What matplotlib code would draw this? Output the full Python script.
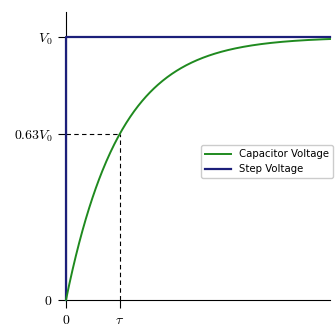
import numpy as np
import matplotlib.pyplot as plt

plt.rcParams['mathtext.fontset'] = 'cm'
plt.rcParams['font.family'] = ['DejaVu Sans']

# RC charging: time in units of tau, voltage in units of V0
tau = 1.0
t_end = 4.9
t = np.linspace(0, t_end, 400)
v_cap = 1 - np.exp(-t / tau)

step_t = [0, 0, t_end]
step_v = [0, 1, 1]

xticks = [0, tau]
xticklabels = [r'$0$', r'$\tau$']
yticks = [0, 0.63, 1]
yticklabels = [r'$0$', r'$0.63V_0$', r'$V_0$']

fig = plt.figure(figsize=(3.35, 3.27), dpi=100)
ax = fig.add_axes([0.197, 0.083, 0.788, 0.88])

ax.plot(t, v_cap, color='#1f8a1f', lw=1.4, label='Capacitor Voltage',
        zorder=6, clip_on=False)
ax.plot(step_t, step_v, color='#1c1f7a', lw=1.6, label='Step Voltage',
        zorder=5, clip_on=False)

# dashed guides at t = tau
ax.plot([0, tau], [0.63, 0.63], color='black', ls='--', lw=0.8, dashes=(4, 3))
ax.plot([tau, tau], [0, 0.63], color='black', ls='--', lw=0.8, dashes=(4, 3))

ax.set_xlim(0, t_end)
ax.set_ylim(0, 1.095)
ax.set_xticks(xticks)
ax.set_xticklabels(xticklabels, fontsize=10)
ax.set_yticks(yticks)
ax.set_yticklabels(yticklabels, fontsize=10)
ax.tick_params(length=6, width=0.8, direction='out')

for s in ['top', 'right']:
    ax.spines[s].set_visible(False)
for s in ['left', 'bottom']:
    ax.spines[s].set_linewidth(0.8)

ax.legend(loc='center right', bbox_to_anchor=(1.03, 0.48), fontsize=7.3,
          frameon=True, fancybox=True, framealpha=1, edgecolor='#cccccc',
          handlelength=2.5)

fig.savefig('out.png', dpi=100)
